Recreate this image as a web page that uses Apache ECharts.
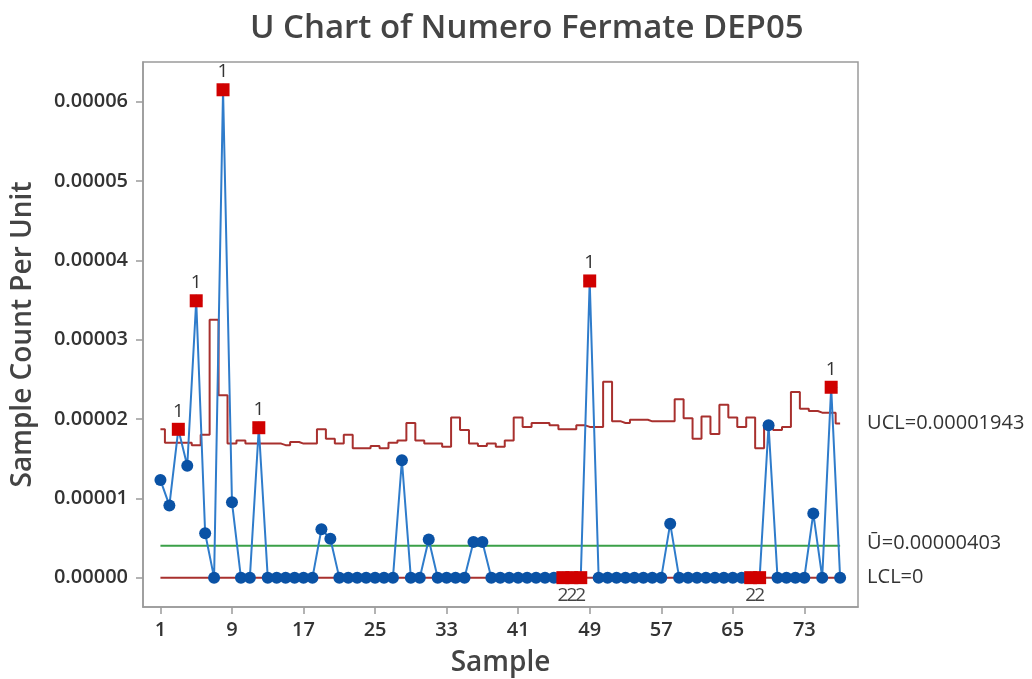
<!DOCTYPE html>
<html>
<head>
<meta charset="utf-8">
<script src="https://cdn.jsdelivr.net/npm/echarts@6/dist/echarts.min.js"></script>
<style>
html,body{margin:0;padding:0;background:#fff;}
#chart{width:1032px;height:679px;}
</style>
</head>
<body>
<div id="chart"></div>
<script>
// ---- data ----
const uValues = [
  0.0000123, 0.0000091, 0.0000187, 0.0000141, 0.0000349, 0.0000056, 0, 0.0000615, 0.0000095, 0,
  0, 0.0000189, 0, 0, 0, 0, 0, 0, 0.0000061, 0.0000049,
  0, 0, 0, 0, 0, 0, 0, 0.0000148, 0, 0,
  0.0000048, 0, 0, 0, 0, 0.0000045, 0.0000045, 0, 0, 0,
  0, 0, 0, 0, 0, 0, 0, 0, 0.0000374, 0,
  0, 0, 0, 0, 0, 0, 0, 0.0000068, 0, 0,
  0, 0, 0, 0, 0, 0, 0, 0, 0.0000192, 0,
  0, 0, 0, 0.0000081, 0, 0.0000240, 0
];
const uclValues = [
  0.0000187, 0.0000170, 0.0000170, 0.0000170, 0.0000167, 0.0000180, 0.0000325, 0.0000230, 0.0000169, 0.0000173,
  0.0000169, 0.0000169, 0.0000169, 0.0000169, 0.0000167, 0.0000171, 0.0000169, 0.0000169, 0.0000187, 0.0000175,
  0.0000169, 0.0000180, 0.0000163, 0.0000163, 0.0000166, 0.0000163, 0.0000170, 0.0000173, 0.0000195, 0.0000173,
  0.0000169, 0.0000169, 0.0000165, 0.0000202, 0.0000186, 0.0000169, 0.0000166, 0.0000169, 0.0000165, 0.0000173,
  0.0000202, 0.0000190, 0.0000195, 0.0000195, 0.0000192, 0.0000187, 0.0000187, 0.0000192, 0.0000190, 0.0000190,
  0.0000247, 0.0000197, 0.0000195, 0.0000199, 0.0000199, 0.0000197, 0.0000197, 0.0000197, 0.0000225, 0.0000201,
  0.0000175, 0.0000203, 0.0000181, 0.0000218, 0.0000202, 0.0000190, 0.0000202, 0.0000163, 0.0000195, 0.0000186,
  0.0000190, 0.0000234, 0.0000213, 0.0000210, 0.0000208, 0.0000208, 0.00001943
];
const centerValue = 0.00000403;
const lclValue = 0;
const test1Samples = [3, 5, 8, 12, 49, 76];
const test2Samples = [46, 47, 48, 67, 68];
const xTickLabels = [1, 9, 17, 25, 33, 41, 49, 57, 65, 73];
const yTickLabels = [0, 0.00001, 0.00002, 0.00003, 0.00004, 0.00005, 0.00006];
const uclText = 'UCL=0.00001943';
const clText = '\u016A=0.00000403';
const lclText = 'LCL=0';

// ---- build ----
const samples = uValues.map((v, i) => i + 1);
const first = samples[0], last = samples[samples.length - 1];
const uData = samples.map((s, i) => [s, uValues[i]]);
const uclData = samples.map((s, i) => [s, uclValues[i]]);
const t1Data = test1Samples.map(s => [s, uValues[s - 1]]);
const t2Data = test2Samples.map(s => [s, uValues[s - 1]]);

const FONT = 'Open Sans';
const RED_LIMIT = '#A8302E';
const AXIS_GRAY = '#9a9a9a';
const chart = echarts.init(document.getElementById('chart'), null, {renderer: 'canvas'});
chart.setOption({
  animation: false,
  backgroundColor: '#fff',
  textStyle: {fontFamily: FONT},
  title: {
    text: 'U Chart of Numero Fermate DEP05',
    left: 245, top: 7,
    textStyle: {fontFamily: FONT, fontSize: 33, fontWeight: 600, color: '#444'}
  },
  grid: {left: 143, top: 62, width: 715, height: 545, show: true, borderColor: AXIS_GRAY, borderWidth: 1.5,
    outerBoundsMode: 'none', containLabel: false},
  xAxis: {
    type: 'value', min: -0.95, max: 79,
    name: 'Sample', nameLocation: 'middle', nameGap: 42,
    nameTextStyle: {fontFamily: FONT, fontSize: 28, fontWeight: 600, color: '#444'},
    axisLine: {show: true, onZero: false, lineStyle: {color: AXIS_GRAY, width: 1.5}},
    axisTick: {show: true, length: 7, customValues: xTickLabels, lineStyle: {color: AXIS_GRAY, width: 1.5}},
    axisLabel: {customValues: xTickLabels, fontFamily: FONT, fontSize: 20, fontWeight: 600, color: '#333', margin: 13},
    splitLine: {show: false}
  },
  yAxis: {
    type: 'value', min: -0.0000037, max: 0.000065,
    name: 'Sample Count Per Unit', nameLocation: 'middle', nameGap: 106,
    nameTextStyle: {fontFamily: FONT, fontSize: 28, fontWeight: 600, color: '#444'},
    axisLine: {show: true, onZero: false, lineStyle: {color: AXIS_GRAY, width: 1.5}},
    axisTick: {show: true, length: 7, customValues: yTickLabels, lineStyle: {color: AXIS_GRAY, width: 1.5}},
    axisLabel: {customValues: yTickLabels, fontFamily: FONT, fontSize: 20, fontWeight: 600, color: '#333', margin: 15,
      formatter: v => Number(v).toFixed(5)},
    splitLine: {show: false}
  },
  series: [
    {
      type: 'line', data: [[first, lclValue], [last, lclValue]], symbol: 'none', silent: true,
      lineStyle: {color: RED_LIMIT, width: 2}, z: 2,
      endLabel: {show: true, formatter: lclText, distance: 27, fontFamily: FONT, fontSize: 20, color: '#333'}
    },
    {
      type: 'line', data: [[first, centerValue], [last, centerValue]], symbol: 'none', silent: true,
      lineStyle: {color: '#3BA048', width: 2}, z: 2,
      endLabel: {show: true, formatter: clText, distance: 27, offset: [0, -2], fontFamily: FONT, fontSize: 20, color: '#333'}
    },
    {
      type: 'line', data: uclData, step: 'middle', symbol: 'none', silent: true,
      lineStyle: {color: RED_LIMIT, width: 2}, z: 2,
      endLabel: {show: true, formatter: uclText, distance: 27, fontFamily: FONT, fontSize: 20, color: '#333'}
    },
    {
      type: 'line', data: uData, symbol: 'circle', symbolSize: 12, showAllSymbol: true,
      lineStyle: {color: '#2F7CCB', width: 2},
      itemStyle: {color: '#0A52A5'}, z: 3
    },
    {
      type: 'scatter', data: t1Data, symbol: 'rect', symbolSize: 13,
      itemStyle: {color: '#D00000', opacity: 1}, z: 4,
      label: {show: true, position: 'top', distance: 2, formatter: '1', fontFamily: FONT, fontSize: 19, color: '#333'}
    },
    {
      type: 'scatter', data: t2Data, symbol: 'rect', symbolSize: 13,
      itemStyle: {color: '#D00000', opacity: 1}, z: 4,
      label: {show: true, position: 'bottom', distance: 2, formatter: '2', fontFamily: FONT, fontSize: 19, color: '#444'}
    }
  ]
});
</script>
</body>
</html>
